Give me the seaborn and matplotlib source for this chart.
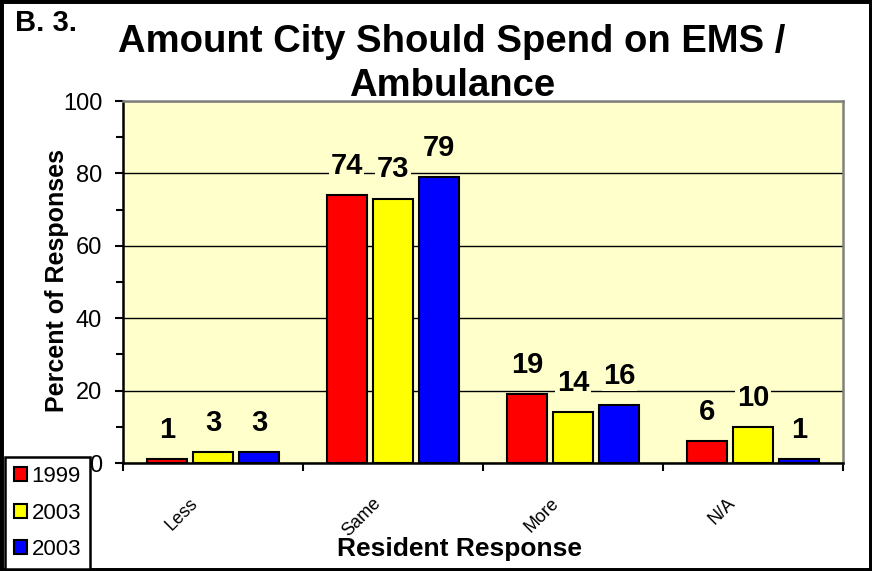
import pandas as pd
import seaborn as sns
import matplotlib.pyplot as plt
from matplotlib.patches import Rectangle
from matplotlib.ticker import MultipleLocator
from matplotlib.transforms import ScaledTranslation

# Data
respostas = ['Less', 'Same', 'More', 'N/A']
series_nomes = ['1999', '2003', '2003']
valores_1999 = [1, 74, 19, 6]
valores_2003 = [3, 73, 14, 10]
valores_2003b = [3, 79, 16, 1]
cores = ['#FF0000', '#FFFF00', '#0000FF']

# Long format table for seaborn (hue keys must be unique)
chaves = ['s1', 's2', 's3']
linhas = []
for chave, valores in zip(chaves, [valores_1999, valores_2003, valores_2003b]):
    for resp, v in zip(respostas, valores):
        linhas.append({'resposta': resp, 'serie': chave, 'valor': v})
df = pd.DataFrame(linhas)

sns.set_style('white')
plt.rcParams['font.family'] = ['Liberation Sans', 'DejaVu Sans']
plt.rcParams['text.color'] = 'black'
plt.rcParams['xtick.color'] = 'black'
plt.rcParams['ytick.color'] = 'black'

W, H = 872, 571
fig = plt.figure(figsize=(W / 100, H / 100), dpi=100)
ax = fig.add_axes([123 / W, (H - 463) / H, 720 / W, 362 / H])
ax.set_facecolor('#FFFFCC')

sns.barplot(data=df, x='resposta', y='valor', hue='serie', order=respostas,
            hue_order=chaves, palette=cores, saturation=1, edgecolor='black',
            linewidth=1.5, width=0.77, gap=0.13, ax=ax, legend=True)

# Value labels above the bars
for cont, valores in zip(ax.containers, [valores_1999, valores_2003, valores_2003b]):
    ax.bar_label(cont, labels=[str(v) for v in valores], padding=11, fontsize=21,
                 fontweight='bold', bbox=dict(facecolor='#FFFFCC', edgecolor='none', pad=1))

# Axes styling
ax.set_ylim(0, 100)
ax.set_xlim(-0.5, len(respostas) - 0.5)
ax.yaxis.set_major_locator(MultipleLocator(20))
ax.yaxis.set_minor_locator(MultipleLocator(10))
ax.xaxis.set_minor_locator(MultipleLocator(1, offset=0.5))
ax.yaxis.grid(True, which='major', color='black', linewidth=1)
ax.set_axisbelow(True)
ax.tick_params(axis='y', which='major', direction='out', length=6, width=1.5,
               labelsize=17, pad=9, left=True)
ax.tick_params(axis='y', which='minor', direction='out', length=5, width=1.5, left=True)
ax.tick_params(axis='x', which='major', length=0, labelsize=13, pad=23)
ax.tick_params(axis='x', which='minor', direction='out', length=6, width=1.5, bottom=True)
for lab in ax.get_xticklabels():
    lab.set_rotation(45)
    lab.set_transform(lab.get_transform() + ScaledTranslation(-0.31, 0, fig.dpi_scale_trans))

for lado in ['left', 'bottom']:
    ax.spines[lado].set_color('black')
    ax.spines[lado].set_linewidth(1.8)
for lado in ['top', 'right']:
    ax.spines[lado].set_color('#808080')
    ax.spines[lado].set_linewidth(1.8)
ax.set_xlabel('')
ax.set_ylabel('')

# Legend at the bottom left corner of the figure
handles, _ = ax.get_legend_handles_labels()
ax.get_legend().remove()
leg = fig.legend(handles, series_nomes, loc='lower left', bbox_to_anchor=(5 / W, 2 / H),
                 bbox_transform=fig.transFigure, borderaxespad=0, fontsize=16,
                 handlelength=0.6, handleheight=0.6, handletextpad=0.2,
                 labelspacing=0.7, borderpad=0.4, fancybox=False, framealpha=1)
leg.get_frame().set_edgecolor('black')
leg.get_frame().set_linewidth(1.8)

# Texts
fig.text(15 / W, 1 - 23 / H, 'B. 3.', ha='left', va='center', fontsize=21, fontweight='bold')
fig.text(452 / W, 1 - 64 / H, 'Amount City Should Spend on EMS /\nAmbulance', ha='center',
         va='center', fontsize=27.5, fontweight='bold', linespacing=1.32)
fig.text(57 / W, 1 - 281 / H, 'Percent of Responses', rotation=90, ha='center', va='center',
         fontsize=18, fontweight='bold')
fig.text(459 / W, 1 - 549 / H, 'Resident Response', ha='center', va='center',
         fontsize=19, fontweight='bold')

# Outer frame
fig.patches.append(Rectangle((0, 0), 1, 1, transform=fig.transFigure, fill=False,
                             edgecolor='black', linewidth=5))

fig.savefig('out.png', dpi=100)
